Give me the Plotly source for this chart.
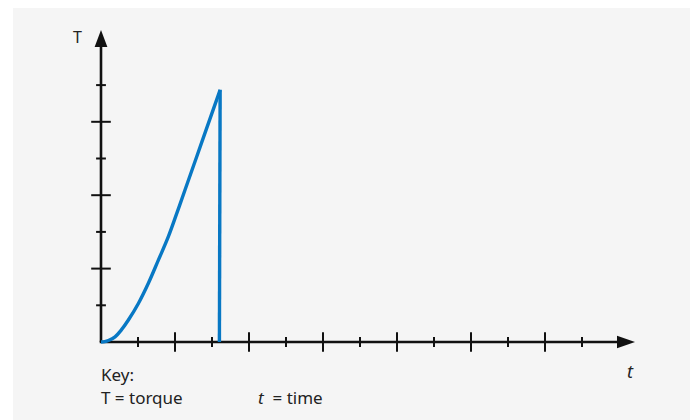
import plotly.graph_objects as go

# Data (in axis units: one tick = 1 unit)
rise_time = [0, 0.1, 0.2, 0.38, 0.55, 0.74, 1.01, 1.28, 1.55, 1.82, 2.05, 2.27, 2.75, 3.22]
rise_torque = [0, 0.01, 0.04, 0.14, 0.33, 0.60, 1.05, 1.60, 2.23, 2.87, 3.51, 4.14, 5.52, 6.87]
drop_time = [3.22, 3.20]
drop_torque = [6.87, 0]

x_major_ticks = [2, 4, 6, 8, 10, 12]
x_minor_ticks = [1, 3, 5, 7, 9, 11, 13]
y_major_ticks = [2, 4, 6]
y_minor_ticks = [1, 3, 5, 7]

W, H = 694, 420
ox, oy = 101, 342          # origin pixel
ux, uy = 37.0, 36.7        # pixels per unit
x_range = [-ox / ux, (W - ox) / ux]
y_range = [-(H - oy) / uy, oy / uy]

def px_x(p):
    return (p - ox) / ux

def px_y(p):
    return (oy - p) / uy

ink = "#111111"
text_col = "#222222"
blue = "#0878c4"
FONT = "Noto Sans"

fig = go.Figure()

# ticks
def tick_trace(xs, ys, symbol, size):
    return go.Scatter(x=xs, y=ys, mode="markers",
                      marker=dict(symbol=symbol, size=size, color=ink, line=dict(width=2, color=ink)),
                      hoverinfo="skip", showlegend=False)

fig.add_trace(tick_trace(x_major_ticks, [0] * len(x_major_ticks), "line-ns-open", 14))
fig.add_trace(tick_trace(x_minor_ticks, [0] * len(x_minor_ticks), "line-ns-open", 7))
fig.add_trace(tick_trace([0] * len(y_major_ticks), y_major_ticks, "line-ew-open", 14))
fig.add_trace(tick_trace([0] * len(y_minor_ticks), y_minor_ticks, "line-ew-open", 7))

# torque curve: smooth rise then sudden drop
fig.add_trace(go.Scatter(x=rise_time, y=rise_torque, mode="lines",
                         line=dict(color=blue, width=3.4, shape="spline", smoothing=1),
                         hoverinfo="skip", showlegend=False))
fig.add_trace(go.Scatter(x=drop_time, y=drop_torque, mode="lines",
                         line=dict(color=blue, width=3.4),
                         hoverinfo="skip", showlegend=False))

shapes = []
# background panel
shapes.append(dict(type="rect", xref="paper", yref="paper",
                   x0=13 / W, x1=690 / W, y0=0, y1=1 - 8 / H,
                   fillcolor="#f5f5f5", line=dict(width=0), layer="below"))
# y axis
y_top = px_y(47)
shapes.append(dict(type="line", xref="x", yref="y", x0=0, y0=0, x1=0, y1=y_top + 0.05,
                   line=dict(color=ink, width=2.6), layer="below"))
shapes.append(dict(type="path", xref="x", yref="y",
                   path=f"M {-6.4/ux} {y_top} L {6.4/ux} {y_top} L 0 {px_y(30)} Z",
                   fillcolor=ink, line=dict(width=0), layer="below"))
# x axis
x_end = px_x(617)
shapes.append(dict(type="line", xref="x", yref="y", x0=-1.3 / ux, y0=0, x1=x_end + 0.05, y1=0,
                   line=dict(color=ink, width=2.6), layer="below"))
shapes.append(dict(type="path", xref="x", yref="y",
                   path=f"M {x_end} {6.2/uy} L {x_end} {-6.2/uy} L {px_x(635)} 0 Z",
                   fillcolor=ink, line=dict(width=0), layer="below"))

annotations = [
    dict(x=px_x(77), y=px_y(37), text="T", showarrow=False, xanchor="center", yanchor="middle",
         font=dict(family=FONT, size=16, color=text_col)),
    dict(x=px_x(630.5), y=px_y(371), text="<i>t</i>", showarrow=False, xanchor="center", yanchor="middle",
         font=dict(family=FONT, size=18, color=text_col)),
    dict(x=px_x(99), y=px_y(374), text="Key:", showarrow=False, xanchor="left", yanchor="middle",
         font=dict(family=FONT, size=17, color=text_col)),
    dict(x=px_x(99), y=px_y(397), text="T = torque", showarrow=False, xanchor="left", yanchor="middle",
         font=dict(family=FONT, size=17, color=text_col)),
    dict(x=px_x(256), y=px_y(397), text="<i>t</i>  = time", showarrow=False, xanchor="left", yanchor="middle",
         font=dict(family=FONT, size=17, color=text_col)),
]

fig.update_layout(
    width=W, height=H,
    margin=dict(l=0, r=0, t=0, b=0),
    paper_bgcolor="white", plot_bgcolor="rgba(0,0,0,0)",
    xaxis=dict(range=x_range, visible=False, fixedrange=True),
    yaxis=dict(range=y_range, visible=False, fixedrange=True),
    shapes=shapes, annotations=annotations,
    showlegend=False,
)

fig.write_html("out.html", config={"displayModeBar": False},
               post_script="document.body.style.margin='0';document.body.style.overflow='hidden';")
